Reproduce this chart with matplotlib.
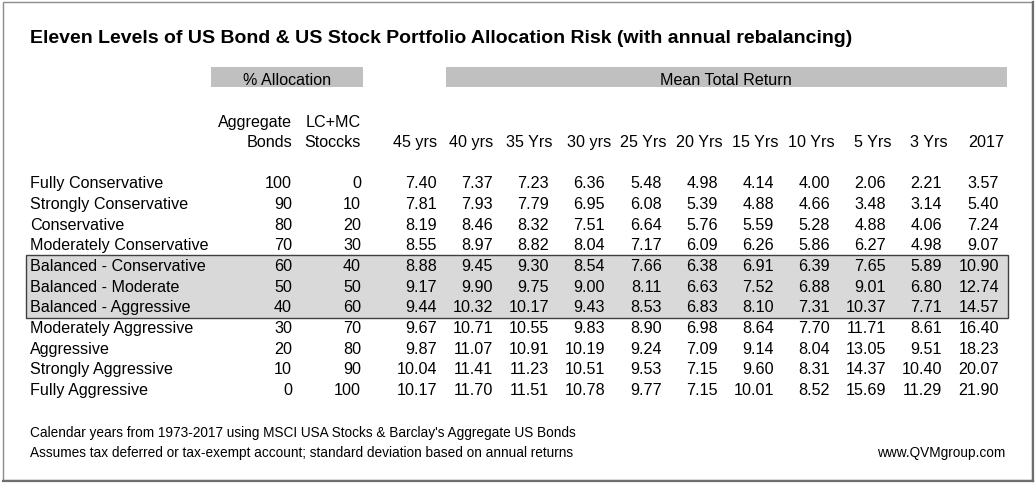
import matplotlib
matplotlib.use('Agg')
from matplotlib import pyplot as plt
from matplotlib.patches import Rectangle

plt.rcParams['font.family'] = ['Liberation Sans', 'DejaVu Sans']

title = 'Eleven Levels of US Bond & US Stock Portfolio Allocation Risk (with annual rebalancing)'

levels = ['Fully Conservative', 'Strongly Conservative', 'Conservative',
          'Moderately Conservative', 'Balanced - Conservative', 'Balanced - Moderate',
          'Balanced - Aggressive', 'Moderately Aggressive', 'Aggressive',
          'Strongly Aggressive', 'Fully Aggressive']
bonds = [100, 90, 80, 70, 60, 50, 40, 30, 20, 10, 0]
stocks = [0, 10, 20, 30, 40, 50, 60, 70, 80, 90, 100]
periods = ['45 yrs', '40 yrs', '35 Yrs', '30 yrs', '25 Yrs', '20 Yrs',
           '15 Yrs', '10 Yrs', '5 Yrs', '3 Yrs', '2017']
returns = [
    [7.40, 7.37, 7.23, 6.36, 5.48, 4.98, 4.14, 4.00, 2.06, 2.21, 3.57],
    [7.81, 7.93, 7.79, 6.95, 6.08, 5.39, 4.88, 4.66, 3.48, 3.14, 5.40],
    [8.19, 8.46, 8.32, 7.51, 6.64, 5.76, 5.59, 5.28, 4.88, 4.06, 7.24],
    [8.55, 8.97, 8.82, 8.04, 7.17, 6.09, 6.26, 5.86, 6.27, 4.98, 9.07],
    [8.88, 9.45, 9.30, 8.54, 7.66, 6.38, 6.91, 6.39, 7.65, 5.89, 10.90],
    [9.17, 9.90, 9.75, 9.00, 8.11, 6.63, 7.52, 6.88, 9.01, 6.80, 12.74],
    [9.44, 10.32, 10.17, 9.43, 8.53, 6.83, 8.10, 7.31, 10.37, 7.71, 14.57],
    [9.67, 10.71, 10.55, 9.83, 8.90, 6.98, 8.64, 7.70, 11.71, 8.61, 16.40],
    [9.87, 11.07, 10.91, 10.19, 9.24, 7.09, 9.14, 8.04, 13.05, 9.51, 18.23],
    [10.04, 11.41, 11.23, 10.51, 9.53, 7.15, 9.60, 8.31, 14.37, 10.40, 20.07],
    [10.17, 11.70, 11.51, 10.78, 9.77, 7.15, 10.01, 8.52, 15.69, 11.29, 21.90],
]
highlighted = [4, 5, 6]
notes = ["Calendar years from 1973-2017 using MSCI USA Stocks & Barclay's Aggregate US Bonds",
         'Assumes tax deferred or tax-exempt account; standard deviation based on annual returns']
site = 'www.QVMgroup.com'

# layout in pixel units
W, H = 1035, 485
fs = 11.6
fs_note = 9.85
val_x = [437, 493, 549, 605, 662, 718, 774, 830, 886, 942, 999]
head_x = [437, 493, 553, 611, 667, 723, 779, 835, 892, 948, 1004]
bond_x, stock_x = 292, 361
row0, row_step = 188.5, 20.65

fig = plt.figure(figsize=(W / 100, H / 100), dpi=100)
ax = fig.add_axes([0, 0, 1, 1])
ax.set_xlim(0, W)
ax.set_ylim(H, 0)
ax.axis('off')

# frame with a slight shadow on right/bottom
ax.add_patch(Rectangle((3, 3), 1029, 478, fill=False, ec='#8c8c8c', lw=1))
ax.plot([1032.5, 1032.5], [3, 482], color='#6e6e6e', lw=1.6)
ax.plot([3, 1032.5], [481.5, 481.5], color='#6e6e6e', lw=1.6)

ax.text(30, 43, title, fontsize=14.0, fontweight='bold', va='baseline')

# grey header bars
ax.add_patch(Rectangle((211, 68), 152, 20, fc='#c0c0c0', ec='none'))
ax.add_patch(Rectangle((446, 68), 561, 20, fc='#c0c0c0', ec='none'))
ax.text(287, 85, '% Allocation', fontsize=fs, ha='center', va='baseline')
ax.text(726, 85, 'Mean Total Return', fontsize=fs, ha='center', va='baseline')

ax.text(bond_x, 127, 'Aggregate', fontsize=fs, ha='right', va='baseline')
ax.text(bond_x, 147, 'Bonds', fontsize=fs, ha='right', va='baseline')
ax.text(stock_x, 127, 'LC+MC', fontsize=fs, ha='right', va='baseline')
ax.text(stock_x, 147, 'Stoccks', fontsize=fs, ha='right', va='baseline')
for x, p in zip(head_x, periods):
    ax.text(x, 147, p, fontsize=fs, ha='right', va='baseline')

# highlighted balanced rows
top = row0 + highlighted[0] * row_step - 15
ax.add_patch(Rectangle((26, top), 982, len(highlighted) * row_step + 0.5,
                       fc='#d9d9d9', ec='#404040', lw=1, zorder=0))

for i, name in enumerate(levels):
    y = row0 + i * row_step
    ax.text(30, y, name, fontsize=fs, va='baseline')
    ax.text(bond_x, y, str(bonds[i]), fontsize=fs, ha='right', va='baseline')
    ax.text(stock_x, y, str(stocks[i]), fontsize=fs, ha='right', va='baseline')
    for x, v in zip(val_x, returns[i]):
        ax.text(x, y, f'{v:.2f}', fontsize=fs, ha='right', va='baseline')

ax.text(30, 437, notes[0], fontsize=fs_note, va='baseline')
ax.text(30, 457, notes[1], fontsize=fs_note, va='baseline')
ax.text(1005, 457, site, fontsize=fs_note, ha='right', va='baseline')

fig.savefig('out.png', dpi=100, facecolor='white')
